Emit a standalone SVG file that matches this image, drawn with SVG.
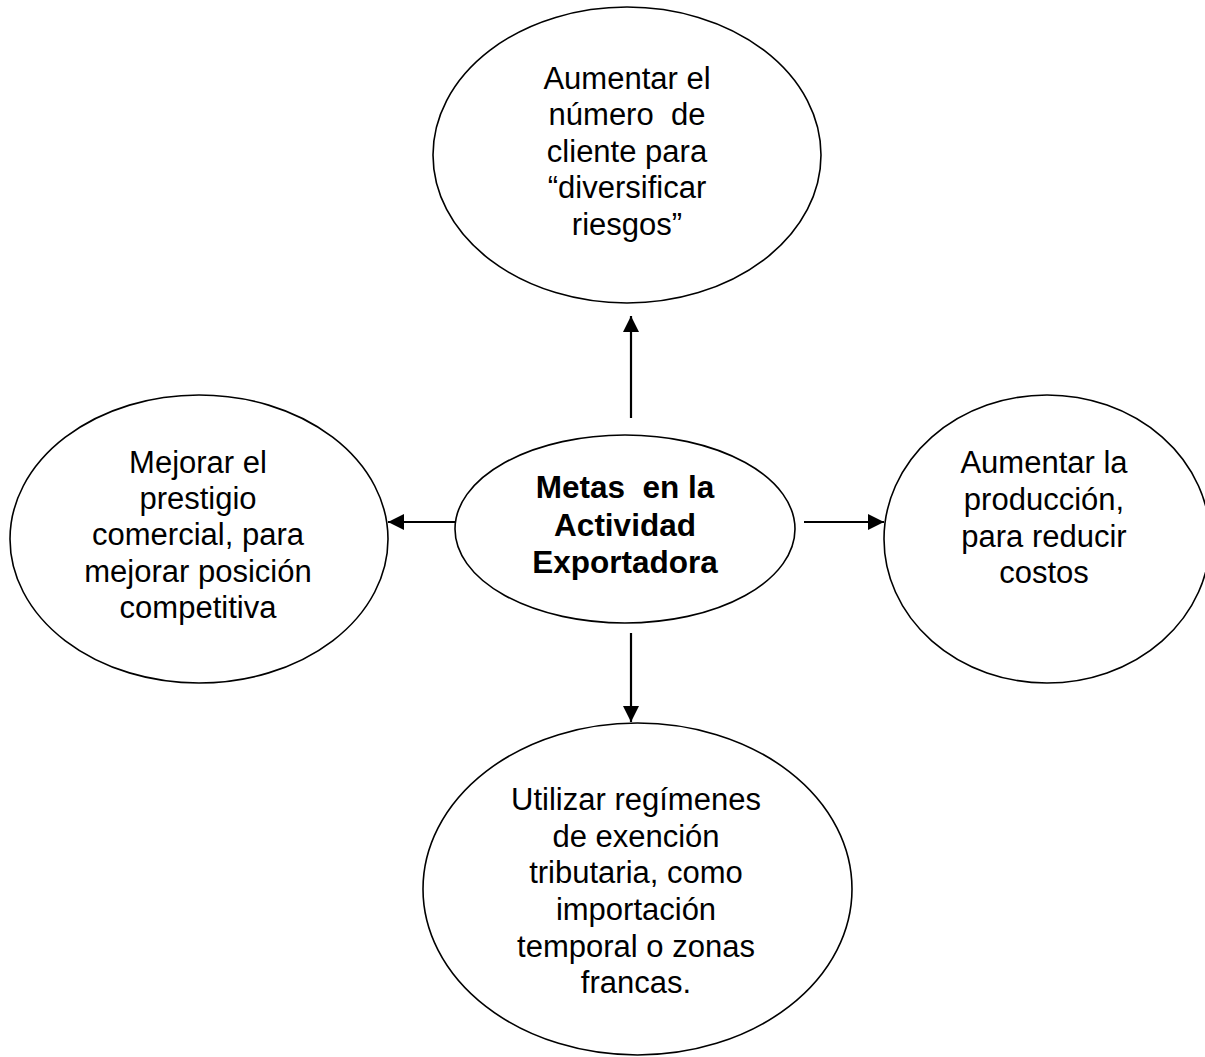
<svg xmlns="http://www.w3.org/2000/svg" width="1205" height="1057" viewBox="0 0 1205 1057" xml:space="preserve">
<style>
.shape{fill:#fff;stroke:#000;stroke-width:1.6}
.t{font-family:"Liberation Sans",Arial,sans-serif;font-size:31px;fill:#000;text-anchor:middle;white-space:pre}
.b{font-family:"Liberation Sans",Arial,sans-serif;font-size:31.5px;font-weight:bold;fill:#000;text-anchor:middle;white-space:pre}
.edge{stroke:#000;stroke-width:2.2;fill:none;marker-end:url(#ah)}
</style>
<defs>
<marker id="ah" viewBox="0 0 16 16" refX="16" refY="8" markerWidth="16" markerHeight="16" markerUnits="userSpaceOnUse" orient="auto">
<path d="M0,0 L16,8 L0,16 Z" fill="#000"/>
</marker>
</defs>
<rect width="1205" height="1057" fill="#fff"/>
<g id="top">
<ellipse class="shape" cx="627" cy="155" rx="194" ry="148"/>
<text class="t" x="627" y="89">Aumentar el</text>
<text class="t" x="627" y="125">número  de</text>
<text class="t" x="627" y="162">cliente para</text>
<text class="t" x="627" y="198">“diversificar</text>
<text class="t" x="627" y="235">riesgos”</text>
</g>
<g id="center">
<ellipse class="shape" cx="625" cy="529" rx="170" ry="94"/>
<text class="b" x="625" y="498">Metas  en la</text>
<text class="b" x="625" y="536">Actividad</text>
<text class="b" x="625" y="573">Exportadora</text>
</g>
<g id="left">
<ellipse class="shape" cx="199" cy="539" rx="189" ry="144"/>
<text class="t" x="198" y="473">Mejorar el</text>
<text class="t" x="198" y="509">prestigio</text>
<text class="t" x="198" y="545">comercial, para</text>
<text class="t" x="198" y="582">mejorar posición</text>
<text class="t" x="198" y="618">competitiva</text>
</g>
<g id="right">
<ellipse class="shape" cx="1047" cy="539" rx="163" ry="144"/>
<text class="t" x="1044" y="473">Aumentar la</text>
<text class="t" x="1044" y="510">producción,</text>
<text class="t" x="1044" y="547">para reducir</text>
<text class="t" x="1044" y="583">costos</text>
</g>
<g id="bottom">
<ellipse class="shape" cx="637.5" cy="889" rx="214.5" ry="166"/>
<text class="t" x="636" y="810">Utilizar regímenes</text>
<text class="t" x="636" y="847">de exención</text>
<text class="t" x="636" y="883">tributaria, como</text>
<text class="t" x="636" y="920">importación</text>
<text class="t" x="636" y="957">temporal o zonas</text>
<text class="t" x="636" y="993">francas.</text>
</g>
<g id="connectors">
<line class="edge" x1="631" y1="418" x2="631" y2="316"/>
<line class="edge" x1="455" y1="522" x2="388" y2="522"/>
<line class="edge" x1="804" y1="522" x2="884" y2="522"/>
<line class="edge" x1="631" y1="633" x2="631" y2="722"/>
</g>
</svg>
